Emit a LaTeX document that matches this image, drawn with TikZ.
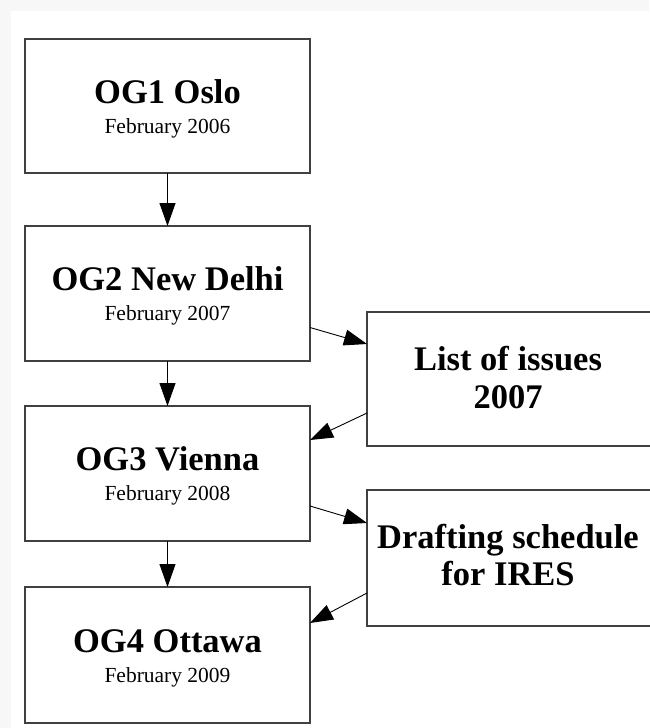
\documentclass[tikz,border=0pt]{standalone}
\usepackage{fontspec}
\setmainfont{Liberation Serif}
\usetikzlibrary{arrows.meta}
\begin{document}
\begin{tikzpicture}[x=1pt,y=-1pt,
  box/.style={draw=black!75, line width=1.2pt, fill=white, inner sep=0pt, outer sep=0pt},
  ttl/.style={font=\fontsize{34.5}{38}\selectfont\bfseries, anchor=base, inner sep=0pt},
  sub/.style={font=\fontsize{21.5}{24}\selectfont, anchor=base, inner sep=0pt},
  arr/.style={-{Triangle[length=23pt,width=16pt]}, line width=0.9pt, black}]
\useasboundingbox (0,0) rectangle (649,728);
\fill[gray!6] (0,0) rectangle (649,728);
\fill[white] (11,11) rectangle (649,728);
% left column boxes
\node[box, minimum width=285pt, minimum height=134pt] (b1) at (167.5,106) {};
\node[box, minimum width=285pt, minimum height=135pt] (b2) at (167.5,293.5) {};
\node[box, minimum width=285pt, minimum height=135pt] (b3) at (167.5,473.5) {};
\node[box, minimum width=285pt, minimum height=136pt] (b4) at (167.5,655) {};
% right column boxes
\node[box, minimum width=286pt, minimum height=134pt] (bA) at (510,379) {};
\node[box, minimum width=286pt, minimum height=136pt] (bB) at (510,558) {};
% texts
\node[ttl] (t1) at (167.5,103) {OG1 Oslo};
\node[sub] (s1) at (167.5,133) {February 2006};
\node[ttl] (t2) at (167.5,290.5) {OG2 New Delhi};
\node[sub] (s2) at (167.5,320.5) {February 2007};
\node[ttl] (t3) at (167.5,470.5) {OG3 Vienna};
\node[sub] (s3) at (167.5,500.5) {February 2008};
\node[ttl] (t4) at (167.5,652) {OG4 Ottawa};
\node[sub] (s4) at (167.5,682) {February 2009};
\node[ttl] (tA1) at (508,370) {List of issues};
\node[ttl] (tA2) at (508,408.5) {2007};
\node[ttl] (tB1) at (508,548) {Drafting schedule};
\node[ttl] (tB2) at (508,585) {for IRES};
% arrows
\draw[arr] (b1.south) -- (b2.north);
\draw[arr] (b2.south) -- (b3.north);
\draw[arr] (b3.south) -- (b4.north);
\draw[arr] ([yshift=-34pt]b2.east) -- ([yshift=35pt]bA.west);
\draw[arr] ([yshift=-34pt]bA.west) -- ([yshift=33.5pt]b3.east);
\draw[arr] ([yshift=-32.5pt]b3.east) -- ([yshift=35pt]bB.west);
\draw[arr] ([yshift=-35pt]bB.west) -- ([yshift=32pt]b4.east);
\end{tikzpicture}
\end{document}
